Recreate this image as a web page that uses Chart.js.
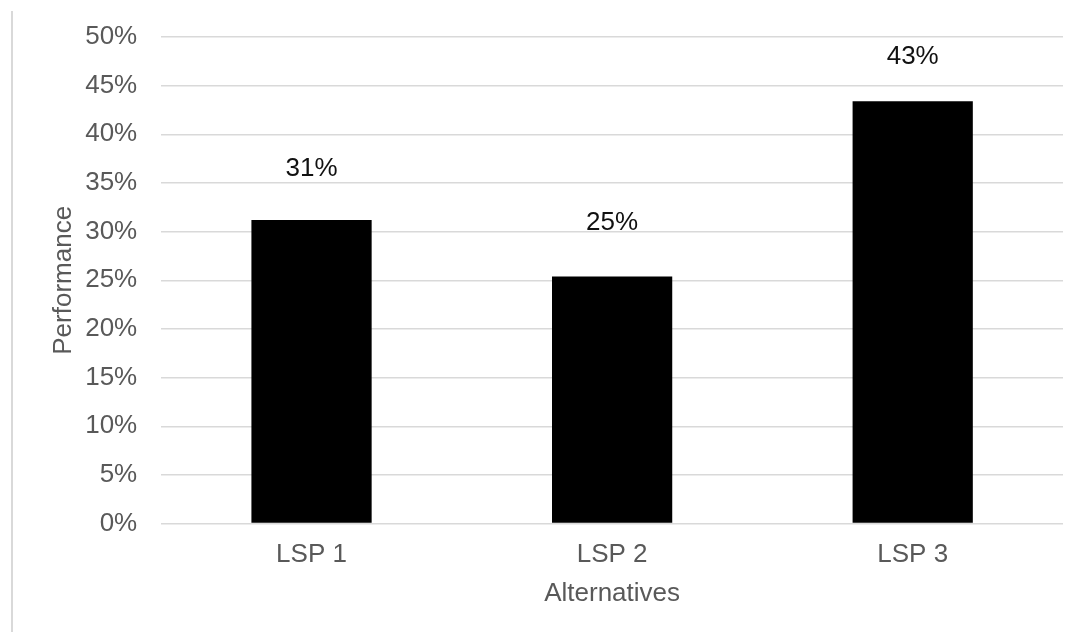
<!DOCTYPE html>
<html>
<head>
<meta charset="utf-8">
<script src="https://cdn.jsdelivr.net/npm/chart.js@4/dist/chart.umd.min.js"></script>
<style>
  html, body { margin: 0; padding: 0; background: #fff; }
  #wrap { position: relative; width: 1077px; height: 632px; }
  #edge { position: absolute; left: 11px; top: 11px; width: 2px; bottom: 0; background: #d9d9d9; }
  canvas { position: absolute; left: 0; top: 0; }
</style>
</head>
<body>
<div id="wrap">
  <div id="edge"></div>
  <canvas id="chart" width="1077" height="632"></canvas>
</div>
<script>
// Performance of each alternative, in percent
const categories = ['LSP 1', 'LSP 2', 'LSP 3'];
const performance = [31.2, 25.4, 43.4];
const yTicks = [0, 5, 10, 15, 20, 25, 30, 35, 40, 45, 50];

const FONT = '"Liberation Sans", Arial, Helvetica, sans-serif';

// Writes the rounded value above each bar
const valueLabels = {
  id: 'valueLabels',
  afterDatasetsDraw(chart, args, opts) {
    const ctx = chart.ctx;
    const meta = chart.getDatasetMeta(0);
    ctx.save();
    ctx.font = `${opts.size}px ${FONT}`;
    ctx.fillStyle = opts.color;
    ctx.textAlign = 'center';
    ctx.textBaseline = 'middle';
    meta.data.forEach((bar, i) => {
      const v = chart.data.datasets[0].data[i];
      ctx.fillText(Math.round(v) + '%', bar.x, bar.y - opts.lift[i]);
    });
    ctx.restore();
  }
};

new Chart(document.getElementById('chart'), {
  type: 'bar',
  data: {
    labels: categories,
    datasets: [{
      data: performance,
      backgroundColor: '#000000',
      borderWidth: 0,
      barPercentage: 0.4,
      categoryPercentage: 1.0
    }]
  },
  options: {
    responsive: false,
    animation: false,
    devicePixelRatio: 1,
    layout: { padding: { left: 48, right: 14, top: 20, bottom: 23 } },
    plugins: {
      legend: { display: false },
      tooltip: { enabled: false },
      valueLabels: { size: 26, color: '#111111', lift: [51, 54, 44] }
    },
    scales: {
      x: {
        grid: { display: false, drawTicks: false },
        border: { display: false },
        ticks: { color: '#595959', font: { family: FONT, size: 26 }, padding: 16 },
        title: {
          display: true, text: 'Alternatives', color: '#595959',
          font: { family: FONT, size: 26 }, padding: { top: -9, bottom: 0 }
        }
      },
      y: {
        min: 0, max: 50,
        afterBuildTicks(axis) { axis.ticks = yTicks.map(v => ({ value: v })); },
        grid: { color: '#d9d9d9', lineWidth: 1.5, drawTicks: false },
        border: { display: false },
        ticks: {
          color: '#595959', font: { family: FONT, size: 26, lineHeight: 1.0 }, padding: 24,
          callback: v => v + '%'
        },
        title: {
          display: true, text: 'Performance', color: '#595959',
          font: { family: FONT, size: 26 }, padding: { top: 0, bottom: -18 }
        }
      }
    }
  },
  plugins: [valueLabels]
});
</script>
</body>
</html>
